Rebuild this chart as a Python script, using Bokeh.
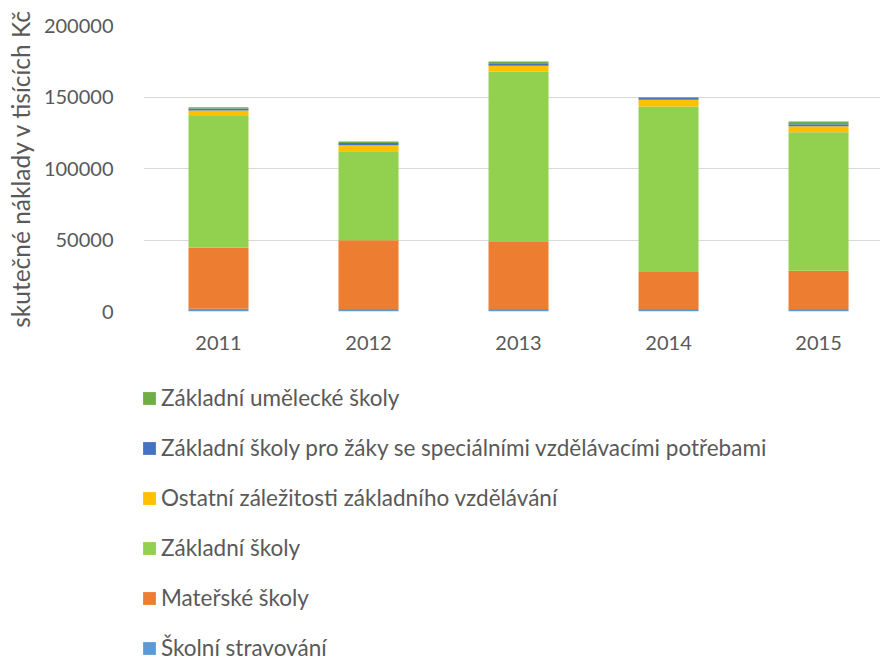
from bokeh.plotting import figure
from bokeh.layouts import column
from bokeh.models import ColumnDataSource, Range1d, FixedTicker, BasicTickFormatter, Legend, LegendItem
from bokeh.embed import file_html
from bokeh.resources import INLINE

years = ["2011", "2012", "2013", "2014", "2015"]
stravovani = [1900, 1800, 1800, 1700, 1800]
materske = [42700, 48100, 47400, 26000, 26700]
zakladni = [92100, 62200, 118400, 115600, 96900]
ostatni = [3900, 4200, 4200, 4700, 4200]
specialni = [1400, 1600, 1200, 1600, 1400]
umelecke = [800, 1000, 1800, 300, 1900]

series_names = ["Školní stravování", "Mateřské školy", "Základní školy",
                "Ostatní záležitosti základního vzdělávání",
                "Základní školy pro žáky se speciálními vzdělávacími potřebami",
                "Základní umělecké školy"]
colors = ["#5B9BD5", "#ED7D31", "#92D050", "#FFC000", "#4472C4", "#70AD47"]
yticks = [0, 50000, 100000, 150000, 200000]

keys = ["s0", "s1", "s2", "s3", "s4", "s5"]
src = ColumnDataSource(dict(x=list(range(len(years))), s0=stravovani, s1=materske,
                            s2=zakladni, s3=ostatni, s4=specialni, s5=umelecke))

FONT = "Lato"
TXT = "#595959"

p = figure(width=880, height=375, output_backend="svg", toolbar_location=None,
           x_range=Range1d(-0.5, 4.413), y_range=Range1d(0, 200000),
           min_border_left=143, min_border_right=0, min_border_top=25,
           min_border_bottom=64)
p.outline_line_color = None

p.vbar_stack(keys, x="x", width=0.4, source=src, color=colors, line_color=None)

p.xgrid.grid_line_color = None
p.ygrid.grid_line_color = "#D9D9D9"
p.ygrid.grid_line_width = 1

p.xaxis.ticker = FixedTicker(ticks=list(range(len(years))))
p.xaxis.major_label_overrides = {i: y for i, y in enumerate(years)}
p.yaxis.ticker = FixedTicker(ticks=yticks)
p.yaxis.formatter = BasicTickFormatter(use_scientific=False)
for ax in (p.xaxis, p.yaxis):
    ax.axis_line_color = None
    ax.major_tick_line_color = None
    ax.minor_tick_line_color = None
    ax.major_label_text_font = FONT
    ax.major_label_text_font_size = "20px"
    ax.major_label_text_color = TXT
p.xaxis.major_label_standoff = 18
p.yaxis.major_label_standoff = 24
p.yaxis.axis_label = "skutečné náklady v tisících Kč"
p.yaxis.axis_label_text_font = FONT
p.yaxis.axis_label_text_font_size = "24.5px"
p.yaxis.axis_label_text_font_style = "normal"
p.yaxis.axis_label_text_color = TXT
p.yaxis.axis_label_standoff = 6

# legend figure
lf = figure(width=880, height=286, output_backend="svg", toolbar_location=None,
            x_range=Range1d(0, 1), y_range=Range1d(0, 1),
            min_border_left=0, min_border_right=0, min_border_top=0, min_border_bottom=0)
lf.axis.visible = False
lf.grid.grid_line_color = None
lf.outline_line_color = None
hidden = ColumnDataSource(dict(x=[-10], top=[0]))
dummy = [lf.vbar(x="x", top="top", width=0.1, source=hidden, color=c, line_color=None) for c in colors]
items = [LegendItem(label=series_names[i], renderers=[dummy[i]]) for i in range(len(keys))][::-1]
legend = Legend(items=items, location=(-2, 0), orientation="vertical",
                padding=0, margin=0, border_line_color=None, background_fill_alpha=0,
                glyph_width=16, glyph_height=16, label_height=27, spacing=23,
                label_standoff=4, label_text_font=FONT, label_text_font_size="22.5px",
                label_text_color=TXT)
lf.add_layout(legend, "center")

layout = column(p, lf, spacing=0)
open("out.html", "w").write(file_html(layout, INLINE))
